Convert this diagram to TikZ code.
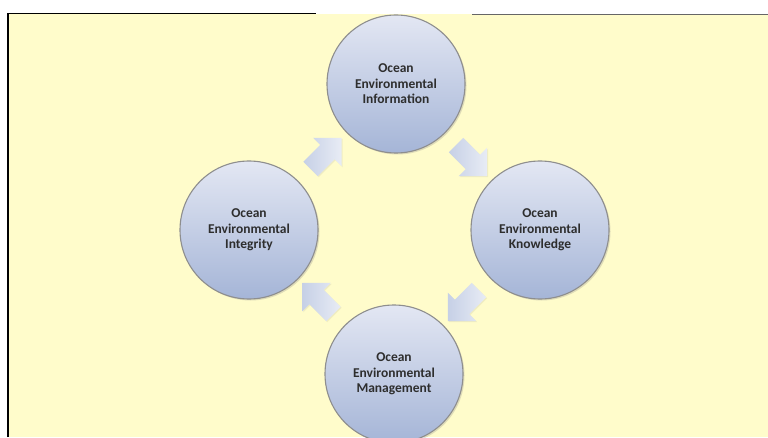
\documentclass[tikz,border=0pt]{standalone}
\usepackage{fontspec}
\setmainfont{Carlito}
\usetikzlibrary{shapes.arrows,shadows,calc}

\definecolor{paper}{HTML}{FFFCCB}
\definecolor{balltop}{HTML}{E3E7F3}
\definecolor{ballbot}{HTML}{A5B5D7}
\definecolor{ringgrey}{HTML}{8E8E8E}
\definecolor{arrowdark}{HTML}{C6D0E6}
\definecolor{arrowlight}{HTML}{E8ECF5}
\definecolor{ink}{HTML}{2E2E2E}

\begin{document}
\begin{tikzpicture}[x=1pt, y=1pt,
    stage/.style={circle, draw=ringgrey, line width=1.1pt, minimum size=138pt,
        inner sep=0pt, top color=balltop, bottom color=ballbot, align=center,
        text=ink, font=\bfseries\fontsize{13.5}{15.5}\selectfont,
        drop shadow={opacity=0.25, shadow xshift=1.5pt, shadow yshift=-1.5pt}},
    turn/.style={single arrow, minimum height=44pt, inner xsep=0pt,
        inner ysep=10pt, single arrow head extend=10pt,
        left color=arrowdark, right color=arrowlight, draw=none,
        drop shadow={opacity=0.12, shadow xshift=1pt, shadow yshift=-1pt}}]

    % Page and frame
    \useasboundingbox (0,0) rectangle (768,437);
    \fill[white] (0,0) rectangle (768,437);
    \fill[paper] (8,0) rectangle (768,423);
    \draw[line width=2pt] (8,0) -- (8,423);
    \draw[line width=1pt] (7,423) -- (316,423);
    \draw[line width=1.5pt, black!60] (472,422.5) -- (768,422.5);

    % The four stages
    \node[stage] (info)  at (396,353) {Ocean\\Environmental\\Information};
    \node[stage] (know)  at (540,207) {Ocean\\Environmental\\Knowledge};
    \node[stage] (manag) at (394,63)  {Ocean\\Environmental\\Management};
    \node[stage] (integ) at (249,207) {Ocean\\Environmental\\Integrity};

    % Block arrows between the stages
    \node[turn, rotate=45]   (a1) at ($(integ)!0.5!(info)$)  {};
    \node[turn, rotate=-45]  (a2) at ($(info)!0.5!(know)$)   {};
    \node[turn, rotate=-135] (a3) at ($(know)!0.5!(manag)$)  {};
    \node[turn, rotate=135]  (a4) at ($(manag)!0.5!(integ)$) {};
\end{tikzpicture}
\end{document}
